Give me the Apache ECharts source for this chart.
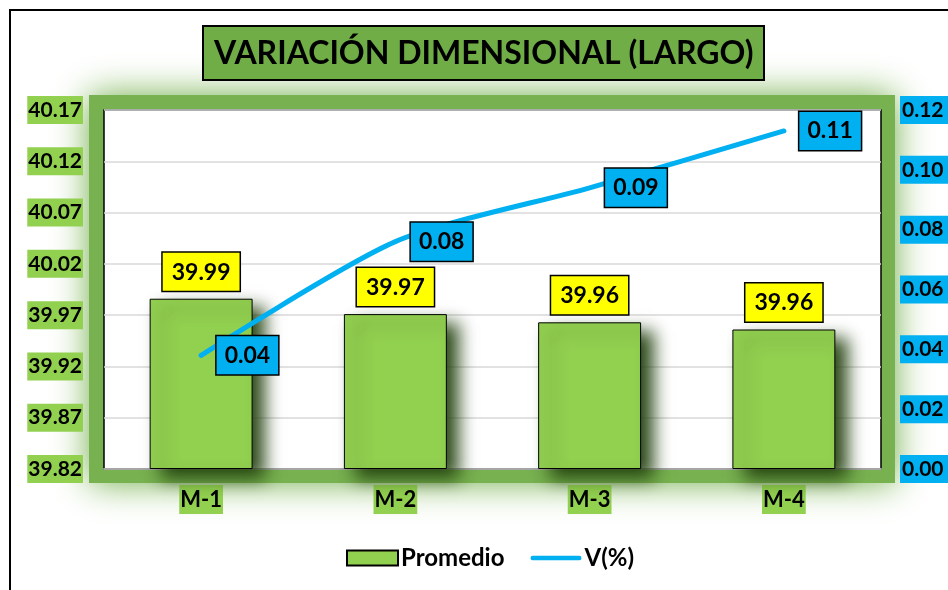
<!DOCTYPE html>
<html>
<head>
<meta charset="utf-8">
<script src="https://cdn.jsdelivr.net/npm/echarts@6/dist/echarts.min.js"></script>
<style>
  html, body { margin: 0; padding: 0; background: #fff; }
  #chart { width: 948px; height: 590px; }
</style>
</head>
<body>
<div id="chart"></div>
<script>
// datos
var categorias = ['M-1', 'M-2', 'M-3', 'M-4'];
var promedio = [39.986, 39.971, 39.963, 39.956];
var variacion = [0.038, 0.076, 0.094, 0.113];
var BASE = 39.82; // primer valor del eje izquierdo
var PASO = 0.05;

var FONT = 'Lato';
var myChart = echarts.init(document.getElementById('chart'));

// el eje izquierdo no empieza en un multiplo de 0.05, se desplaza
var barras = promedio.map(function (v) { return +(v - BASE).toFixed(4); });

var option = {
    backgroundColor: '#fff',
    animation: false,
    title: {
        text: 'VARIACIÓN DIMENSIONAL (LARGO)',
        left: 203,
        top: 26,
        padding: [10, 11, 9, 11],
        backgroundColor: '#70AD47',
        borderColor: '#000',
        borderWidth: 2,
        textStyle: { fontFamily: FONT, fontWeight: 'bold', fontSize: 32, lineHeight: 35, color: '#000' }
    },
    graphic: [
        {   // borde exterior
            type: 'rect', z: -20,
            shape: { x: 10, y: 10, width: 960, height: 600 },
            style: { fill: '#fff', stroke: '#000', lineWidth: 2 }
        },
        {   // resplandor verde del area de trazado
            type: 'rect', z: -10,
            shape: { x: 89, y: 95, width: 806, height: 388 },
            style: { fill: '#78B150', shadowBlur: 34, shadowColor: 'rgba(112,173,71,1)' }
        }
    ],
    grid: {
        left: 104, right: 67, top: 110, bottom: 121,
        outerBoundsMode: 'none',
        containLabel: false,
        show: true,
        backgroundColor: '#fff',
        borderColor: '#000',
        borderWidth: 1.5
    },
    legend: {
        left: 341,
        top: 541,
        itemWidth: 51,
        itemHeight: 15,
        itemGap: 26,
        data: [
            { name: 'Promedio', icon: 'rect' },
            { name: 'V(%)', icon: 'path://M2,0 L54,0 A2.5,2.5 0 0 1 54,5 L2,5 A2.5,2.5 0 0 1 2,0 Z', itemStyle: { color: '#00B0F0', borderWidth: 0 } }
        ],
        textStyle: { fontFamily: FONT, fontWeight: 'bold', fontSize: 24, color: '#000', padding: [0, 0, 0, -2] }
    },
    xAxis: {
        type: 'category',
        data: categorias,
        axisLine: { lineStyle: { color: '#a6a6a6', width: 2 } },
        axisTick: { show: false },
        axisLabel: {
            margin: 16,
            fontFamily: FONT, fontWeight: 'bold', fontSize: 22, color: '#000',
            backgroundColor: '#92D050',
            padding: [4, 1, 3, 1]
        }
    },
    yAxis: [
        {
            type: 'value',
            min: 0,
            max: 0.35,
            interval: PASO,
            axisLine: { show: false },
            axisTick: { show: false },
            splitLine: { lineStyle: { color: '#d9d9d9', width: 1.5 } },
            axisLabel: {
                margin: 21,
                formatter: function (v) { return (v + BASE).toFixed(2); },
                fontFamily: FONT, fontWeight: 'bold', fontSize: 21, color: '#000',
                backgroundColor: '#92D050',
                padding: [4, 1, 3, 1]
            }
        },
        {
            type: 'value',
            min: 0,
            max: 0.12,
            interval: 0.02,
            axisLine: { show: false },
            axisTick: { show: false },
            splitLine: { show: false },
            axisLabel: {
                margin: 19,
                formatter: function (v) { return v.toFixed(2); },
                fontFamily: FONT, fontWeight: 'bold', fontSize: 21, color: '#000',
                backgroundColor: '#00B0F0',
                padding: [4, 6, 3, 2]
            }
        }
    ],
    series: [
        {
            name: 'Promedio',
            type: 'bar',
            barWidth: '53%',
            data: barras,
            itemStyle: {
                color: '#92D050',
                borderColor: '#000',
                borderWidth: 1,
                shadowColor: 'rgba(35,65,15,0.95)',
                shadowBlur: 16,
                shadowOffsetX: 12,
                shadowOffsetY: 9
            },
            label: {
                show: true,
                position: 'top',
                distance: 8,
                formatter: function (p) { return promedio[p.dataIndex].toFixed(2); },
                fontFamily: FONT, fontWeight: 'bold', fontSize: 23, color: '#000',
                backgroundColor: '#FFFF00',
                borderColor: '#000',
                borderWidth: 1.5,
                padding: [8, 9, 7, 9]
            }
        },
        {
            name: 'V(%)',
            type: 'line',
            yAxisIndex: 1,
            data: variacion,
            smooth: 0.25,
            symbol: 'circle',
            symbolSize: 1,
            showSymbol: true,
            lineStyle: { color: '#00B0F0', width: 5, cap: 'round' },
            itemStyle: { color: '#00B0F0' },
            label: {
                show: true,
                position: 'right',
                distance: 15,
                formatter: function (p) { return variacion[p.dataIndex].toFixed(2); },
                fontFamily: FONT, fontWeight: 'bold', fontSize: 23, color: '#000',
                backgroundColor: '#00B0F0',
                borderColor: '#000',
                borderWidth: 1.5,
                padding: [8, 8, 7, 8]
            }
        }
    ]
};

myChart.setOption(option);
</script>
</body>
</html>
